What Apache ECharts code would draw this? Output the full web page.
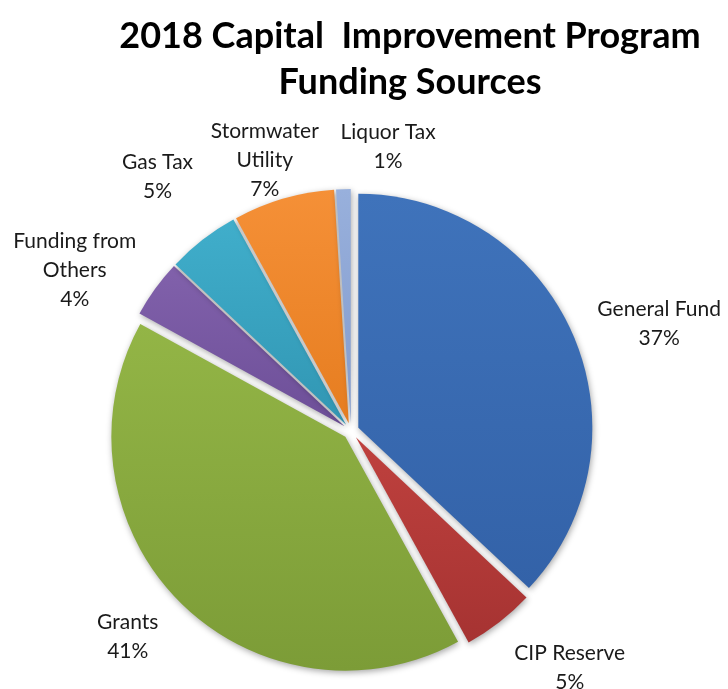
<!DOCTYPE html>
<html>
<head>
<meta charset="utf-8">
<title>2018 Capital Improvement Program Funding Sources</title>
<script src="https://cdn.jsdelivr.net/npm/echarts@6/dist/echarts.min.js"></script>
<style>
  html, body { margin: 0; padding: 0; background: #ffffff; }
  #chart { width: 728px; height: 689px; }
</style>
</head>
<body>
<div id="chart"></div>
<script>
// Funding sources, clockwise from 12 o'clock
const categories = ['General Fund', 'CIP Reserve', 'Grants', 'Funding from Others', 'Gas Tax', 'Stormwater Utility', 'Liquor Tax'];
const labelNames = ['General Fund', 'CIP Reserve', 'Grants', 'Funding from\nOthers', 'Gas Tax', 'Stormwater\nUtility', 'Liquor Tax'];
const shares = [37, 5, 41, 4, 5, 7, 1];   // percent of total funding

// Slice colours: [top, bottom] of a soft vertical gradient
const sliceColors = [
  ['#3f73bb', '#3362a8'],
  ['#bf413e', '#a63332'],
  ['#93b546', '#7c9c37'],
  ['#8161ab', '#6d4f98'],
  ['#40aecb', '#3196b3'],
  ['#f59037', '#e67d20'],
  ['#98b0dc', '#829bcd']
];

// Label placement: distance beyond the rim and a small nudge per label
const labelReach = [92, 87, 69, 84, 85, 50, 49];
const labelNudge = [[9, 22], [22, -17], [-9, -9], [-19, 26], [2, -2], [-7, 2], [46, -1]];

const PIE_CENTER = [351, 431];
const PIE_RADIUS = 234;

const chart = echarts.init(document.getElementById('chart'), null, { renderer: 'canvas' });

// Exploded slices
const sliceData = categories.map(function (name, i) {
  return {
    name: name,
    value: shares[i],
    selected: true,
    itemStyle: {
      color: new echarts.graphic.LinearGradient(0, 0, 0, 1, [
        { offset: 0, color: sliceColors[i][0] },
        { offset: 1, color: sliceColors[i][1] }
      ])
    }
  };
});

// Same shares again, carrying only the outside labels
const labelData = categories.map(function (name, i) {
  return {
    name: name,
    value: shares[i],
    labelLine: { show: false, length: labelReach[i], length2: 0 }
  };
});

chart.setOption({
  backgroundColor: '#ffffff',
  animation: false,
  title: {
    text: '2018 Capital  Improvement Program\nFunding Sources',
    left: 405,
    top: 8,
    textAlign: 'center',
    textStyle: {
      fontFamily: 'Lato',
      fontWeight: 'bold',
      fontSize: 36,
      lineHeight: 46,
      color: '#000000'
    }
  },
  series: [
    {
      type: 'pie',
      center: PIE_CENTER,
      radius: PIE_RADIUS,
      startAngle: 90,
      clockwise: true,
      selectedMode: 'multiple',
      selectedOffset: 8,
      silent: true,
      emphasis: { disabled: true },
      itemStyle: {
        shadowBlur: 6,
        shadowColor: 'rgba(0,0,0,0.35)',
        shadowOffsetX: 1,
        shadowOffsetY: 2
      },
      label: { show: false },
      labelLine: { show: false },
      data: sliceData
    },
    {
      type: 'pie',
      center: PIE_CENTER,
      radius: PIE_RADIUS,
      startAngle: 90,
      clockwise: true,
      silent: true,
      avoidLabelOverlap: false,
      emphasis: { disabled: true },
      itemStyle: { color: 'rgba(0,0,0,0)' },
      label: {
        show: true,
        position: 'outside',
        fontFamily: 'Lato',
        fontSize: 21,
        lineHeight: 29,
        color: '#1a1a1a',
        formatter: function (p) {
          return labelNames[p.dataIndex] + '\n' + p.value + '%';
        }
      },
      labelLayout: function (p) {
        const r = p.labelRect;
        const nudge = labelNudge[p.dataIndex];
        const anchorX = p.align === 'left' ? r.x - 5 : r.x + r.width + 5;
        return {
          x: anchorX + nudge[0],
          y: r.y + r.height / 2 + nudge[1],
          align: 'center',
          verticalAlign: 'middle'
        };
      },
      data: labelData
    }
  ]
});
</script>
</body>
</html>
